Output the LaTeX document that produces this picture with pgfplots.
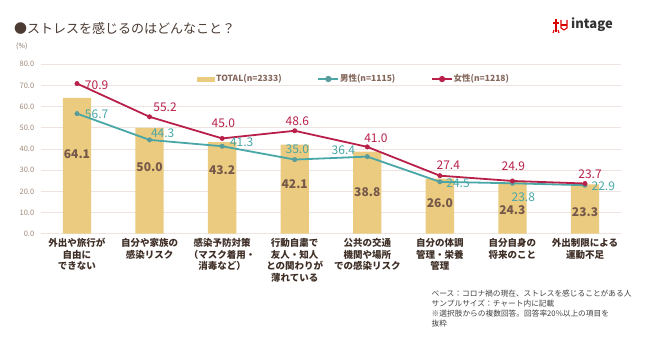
\documentclass[border=0pt]{standalone}
\usepackage{fontspec}
\setmainfont{Noto Sans CJK JP}
\usepackage{pgfplots}
\pgfplotsset{compat=1.18}
\usepackage{pgfplotstable}
\definecolor{barc}{HTML}{EACB7F}
\definecolor{menc}{HTML}{4AA7A7}
\definecolor{womc}{HTML}{B8204A}
\definecolor{gridc}{HTML}{EFE3E0}
\definecolor{tickc}{HTML}{A08878}
\definecolor{catc}{HTML}{3E2E26}
\definecolor{barlab}{HTML}{76584A}
\definecolor{titc}{HTML}{4B3B33}
\definecolor{legc}{HTML}{85675C}

\pgfplotstableread{
x total men women
0 64.1 56.7 70.9
1 50.0 44.3 55.2
2 43.2 41.3 45.0
3 42.1 35.0 48.6
4 38.8 36.4 41.0
5 26.0 24.5 27.4
6 24.3 23.8 24.9
7 23.3 22.9 23.7
}\data

\pgfplotstableread{
x y lab
0.271 70.2 70.9
1.213 59.7 55.2
2.016 52.4 45.0
3.036 53.2 48.6
4.120 45.1 41.0
5.116 32.4 27.4
6.012 32.0 24.9
7.069 28.2 23.7
}\wlab

\pgfplotstableread{
x y lab
0.271 56.5 56.7
1.181 47.4 44.3
2.270 43.0 41.3
3.036 40.0 35.0
3.670 39.5 36.4
5.250 23.8 24.5
6.150 17.2 23.8
7.252 22.2 22.9
}\mlab

\pgfplotstableread{
x y lab
0 37.6 64.1
1 31.6 50.0
2 29.8 43.2
3 23.5 42.1
4 19.8 38.8
5 14.4 26.0
6 11.2 24.3
7 10.4 23.3
}\blab

\begin{document}
\begin{tikzpicture}
\useasboundingbox (0pt,0pt) rectangle (650pt,350pt);
% title
\node[anchor=west, text=titc, font=\fontsize{13}{15}\selectfont, inner sep=0pt] at (14pt,321.7pt) {●ストレスを感じるのはどんなこと？};
\node[anchor=west, text=tickc!80!black, font=\fontsize{7}{8}\selectfont, inner sep=0pt] at (16pt,303.3pt) {(\%)};
% logo
\begin{scope}[red!85!black, line width=1.1pt]
\draw (556pt,331pt) -- (556pt,318pt);
\draw (553pt,327pt) -- (559pt,327pt);
\draw (554pt,320pt) -- (553pt,317pt);
\draw (558pt,320pt) -- (559pt,317pt);
\draw (561pt,330pt) -- (561pt,322pt) -- (564pt,320pt) -- (567pt,322pt) -- (567pt,330pt);
\draw (561pt,325pt) -- (567pt,325pt);
\end{scope}
\node[anchor=west, text=black!80, font=\fontsize{13}{15}\selectfont\bfseries, inner sep=0pt] at (571pt,325pt) {intage};
% footnote
\node[anchor=north west, align=left, text=black!75, font=\fontsize{7.7}{10}\selectfont, inner sep=0pt] at (431.5pt,60pt) {ベース：コロナ禍の現在、ストレスを感じることがある人\\サンプルサイズ：チャート内に記載\\※選択肢からの複数回答。回答率20\%以上の項目を\\抜粋};

\begin{axis}[
  at={(40.7pt,116.3pt)}, anchor=south west,
  scale only axis, width=580.6pt, height=169.4pt,
  xmin=-0.5, xmax=7.5, ymin=0, ymax=80,
  axis line style={draw=none},
  major tick length=0pt,
  ytick={0,10,...,80},
  ymajorgrids, grid style={gridc, line width=0.8pt},
  yticklabel style={text=tickc, font=\fontsize{7.5}{9}\selectfont, xshift=-3pt},
  /pgf/number format/.cd, fixed, fixed zerofill, precision=1, assume math mode=true, /pgfplots/.cd,
  xtick={0,...,7},
  xticklabels={{外出や旅行が\\自由に\\できない},{自分や家族の\\感染リスク},{感染予防対策\\（マスク着用・\\消毒など）},{行動自粛で\\友人・知人\\との関わりが\\薄れている},{公共の交通\\機関や場所\\での感染リスク},{自分の体調\\管理・栄養\\管理},{自分自身の\\将来のこと},{外出制限による\\運動不足}},
  xticklabel style={align=center, text=catc, font=\fontsize{9.5}{11.7}\selectfont\bfseries, yshift=-1pt},
  legend columns=3,
  legend style={draw=none, fill=none, inner sep=0pt, outer sep=0pt, at={(0.2697,0.913)}, anchor=west,
    font=\fontsize{8.5}{10}\selectfont\bfseries, text=legc,
    nodes={inner sep=0.8pt},
    /tikz/every even column/.append style={column sep=35pt}},
  clip=false,
]
\addplot[ybar, bar width=0.39, fill=barc, draw=none,
  legend image code/.code={\fill[barc] (0pt,-2.5pt) rectangle (18pt,2.5pt);}]
  table[x=x, y=total] {\data};
\addlegendentry{TOTAL(n=2333)}
\addplot[menc, line width=1.8pt, mark=*, mark size=2.2pt, mark options={fill=menc!70!gray, draw=menc!70!gray, line width=0.5pt},
  legend image code/.code={\draw[menc, line width=1.8pt] (0pt,0pt) -- (20pt,0pt); \fill[menc!70!gray] (10pt,0pt) circle (2.2pt);}]
  table[x=x, y=men] {\data};
\addlegendentry{男性(n=1115)}
\addplot[womc, line width=1.8pt, mark=*, mark size=2.2pt, mark options={fill=womc, draw=womc, line width=0.5pt},
  legend image code/.code={\draw[womc, line width=1.8pt] (0pt,0pt) -- (20pt,0pt); \fill[womc] (10pt,0pt) circle (2.2pt);}]
  table[x=x, y=women] {\data};
\addlegendentry{女性(n=1218)}
% labels
\addplot[draw=none, mark=none, forget plot, nodes near coords, point meta=explicit symbolic,
  nodes near coords style={anchor=center, inner sep=0pt, text=barlab, font=\fontsize{12}{14}\selectfont\bfseries}]
  table[x=x, y=y, meta=lab] {\blab};
\addplot[draw=none, mark=none, forget plot, nodes near coords, point meta=explicit symbolic,
  nodes near coords style={anchor=center, inner sep=0pt, text=menc, font=\fontsize{12}{14}\selectfont}]
  table[x=x, y=y, meta=lab] {\mlab};
\addplot[draw=none, mark=none, forget plot, nodes near coords, point meta=explicit symbolic,
  nodes near coords style={anchor=center, inner sep=0pt, text=womc, font=\fontsize{12}{14}\selectfont}]
  table[x=x, y=y, meta=lab] {\wlab};
\end{axis}
\end{tikzpicture}
\end{document}
